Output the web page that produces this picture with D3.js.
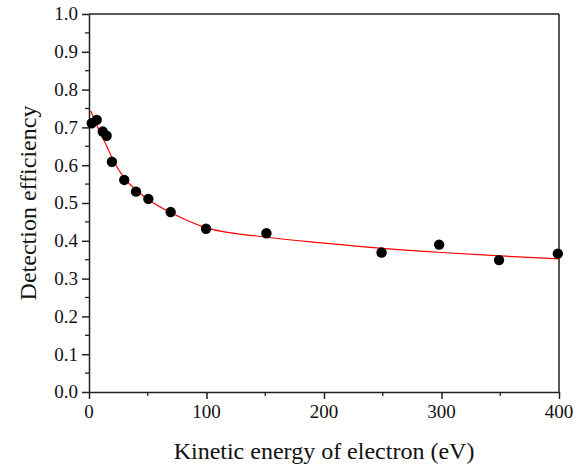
<!DOCTYPE html>
<html>
<head>
<meta charset="utf-8">
<script src="https://cdn.jsdelivr.net/npm/d3@7"></script>
<style>
  body { margin: 0; background: #fff; }
  svg text { font-family: "Liberation Serif", "Times New Roman", serif; fill: #111; }
</style>
</head>
<body>
<div id="chart"></div>
<script>
// measured points
const energy = [2.3, 6.6, 11.7, 15, 19.5, 30, 40, 50.5, 69.5, 99.6, 151, 249, 298, 349, 399];
const efficiency = [0.711, 0.72, 0.689, 0.678, 0.609, 0.561, 0.53, 0.511, 0.476, 0.432, 0.42, 0.369, 0.39, 0.349, 0.366];

// fit curve
const fitEnergy = [1.4, 5, 10, 15, 20, 30, 40, 50, 70, 100, 150, 200, 250, 300, 350, 400];
const fitEff = [0.744, 0.718, 0.683, 0.651, 0.617, 0.566, 0.535, 0.51, 0.474, 0.434, 0.41, 0.394, 0.38, 0.369, 0.36, 0.352];

const xTicks = [0, 100, 200, 300, 400];
const yTicks = [0, 0.1, 0.2, 0.3, 0.4, 0.5, 0.6, 0.7, 0.8, 0.9, 1.0];

const width = 584, height = 470;
const margin = { left: 89, right: 25, top: 14, bottom: 78 };

const svg = d3.select('#chart').append('svg')
    .attr('width', width)
    .attr('height', height);

const x = d3.scaleLinear().domain([0, 400]).range([margin.left, width - margin.right]);
const y = d3.scaleLinear().domain([0, 1]).range([height - margin.bottom, margin.top]);

// minor ticks
const xMinor = d3.range(50, 400, 100);
const yMinor = d3.range(0.05, 1, 0.1);

svg.append('g')
    .selectAll('line')
    .data(xMinor)
    .join('line')
    .attr('x1', d => x(d)).attr('x2', d => x(d))
    .attr('y1', y(0)).attr('y2', y(0) + 4)
    .attr('stroke', '#222').attr('stroke-width', 1.3);

svg.append('g')
    .selectAll('line')
    .data(yMinor)
    .join('line')
    .attr('x1', x(0) - 4).attr('x2', x(0))
    .attr('y1', d => y(d)).attr('y2', d => y(d))
    .attr('stroke', '#222').attr('stroke-width', 1.3);

// axes (lines and ticks only, labels drawn below)
const xAxis = svg.append('g')
    .attr('transform', `translate(0,${y(0)})`)
    .call(d3.axisBottom(x).tickValues(xTicks).tickSize(7).tickFormat('').tickSizeOuter(0));

const yAxis = svg.append('g')
    .attr('transform', `translate(${x(0)},0)`)
    .call(d3.axisLeft(y).tickValues(yTicks).tickSize(7).tickFormat('').tickSizeOuter(0));

[xAxis, yAxis].forEach(g => {
    g.selectAll('path, line').attr('stroke', '#222').attr('stroke-width', 1.5);
});

// tick labels
svg.append('g')
    .selectAll('text')
    .data(xTicks)
    .join('text')
    .attr('x', d => x(d))
    .attr('y', y(0) + 26)
    .attr('text-anchor', 'middle')
    .style('font-size', '19px')
    .text(d => d);

svg.append('g')
    .selectAll('text')
    .data(yTicks)
    .join('text')
    .attr('x', x(0) - 11)
    .attr('y', d => y(d))
    .attr('dy', '0.34em')
    .attr('text-anchor', 'end')
    .style('font-size', '19px')
    .text(d => d3.format('.1f')(d));

// frame top and right
svg.append('line')
    .attr('x1', x(0)).attr('x2', x(400))
    .attr('y1', y(1)).attr('y2', y(1))
    .attr('stroke', '#222').attr('stroke-width', 1.5);
svg.append('line')
    .attr('x1', x(400)).attr('x2', x(400))
    .attr('y1', y(1)).attr('y2', y(0))
    .attr('stroke', '#222').attr('stroke-width', 1.5);

// fit line
const line = d3.line()
    .x((d, i) => x(fitEnergy[i]))
    .y(d => y(d))
    .curve(d3.curveMonotoneX);

svg.append('path')
    .datum(fitEff)
    .attr('d', line)
    .attr('fill', 'none')
    .attr('stroke', '#ff0000')
    .attr('stroke-width', 1.2);

// data points
svg.append('g')
    .selectAll('circle')
    .data(energy)
    .join('circle')
    .attr('cx', d => x(d))
    .attr('cy', (d, i) => y(efficiency[i]))
    .attr('r', 5.2)
    .attr('fill', '#000');

// axis titles
svg.append('text')
    .attr('x', (x(0) + x(400)) / 2)
    .attr('y', 459)
    .attr('text-anchor', 'middle')
    .style('font-size', '24px')
    .text('Kinetic energy of electron (eV)');

svg.append('text')
    .attr('transform', `translate(36,${(y(0) + y(1)) / 2}) rotate(-90)`)
    .attr('text-anchor', 'middle')
    .style('font-size', '24px')
    .text('Detection efficiency');
</script>
</body>
</html>
